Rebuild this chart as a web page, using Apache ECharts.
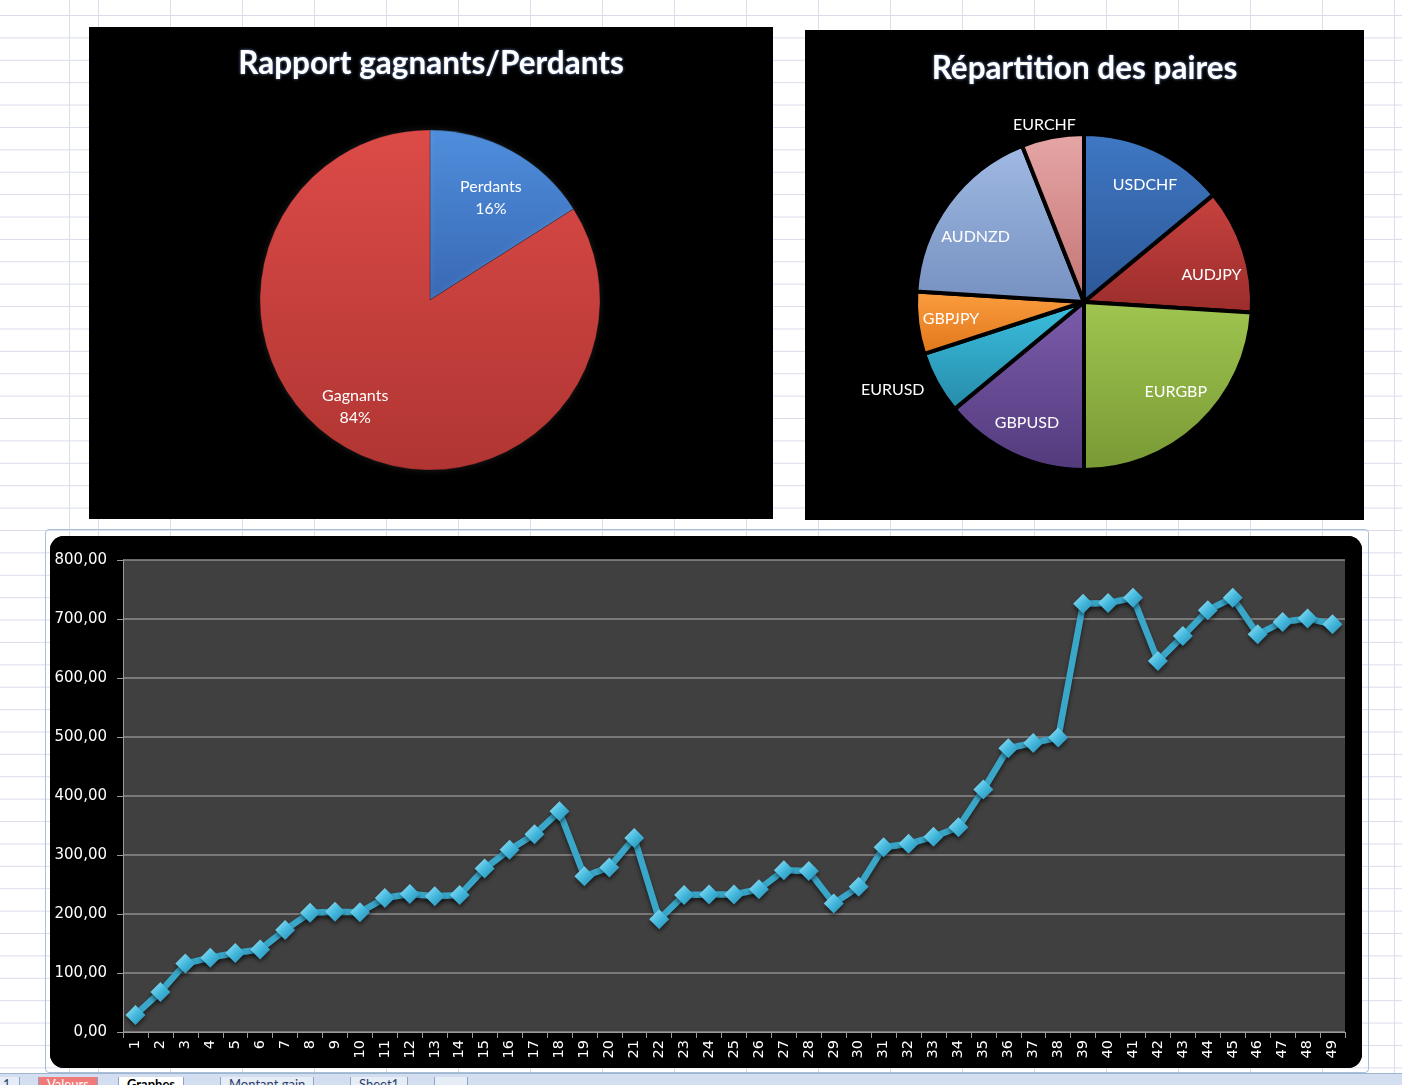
<!DOCTYPE html>
<html>
<head>
<meta charset="utf-8">
<script src="https://cdn.jsdelivr.net/npm/echarts@6/dist/echarts.min.js"></script>
<style>
  html, body { margin: 0; padding: 0; width: 1402px; height: 1085px; overflow: hidden; }
  body {
    position: relative;
    background-color: #ffffff;
    background-image:
      linear-gradient(to bottom, #d9dcea 1px, transparent 1px),
      linear-gradient(to right, #d9dcea 1px, transparent 1px);
    background-size: 72px 22.4px, 72px 22.4px;
    background-position: 0 15px, 26px 0;
  }
  #colA { position: absolute; left: 69px; top: 0; width: 1px; height: 1085px; background: #d9dcea; }
  #colAhide { position: absolute; left: 0; top: 0; width: 69px; height: 1085px;
    background-image: linear-gradient(to bottom, #d9dcea 1px, transparent 1px);
    background-size: 72px 22.4px; background-position: 0 15px; background-color: #fff; }
  .panel { position: absolute; background: #000; }
  #pie1 { left: 89px; top: 27px; width: 684px; height: 492px; }
  #pie2 { left: 805px; top: 30px; width: 559px; height: 490px; }
  #frame { position: absolute; left: 45px; top: 529px; width: 1324px; height: 544px;
    border: 1px solid #a9bfd6; border-radius: 4px; box-sizing: border-box; }
  #line { left: 50px; top: 536px; width: 1312px; height: 532px; border-radius: 14px; overflow: hidden; }
  #tabs { position: absolute; left: 0; top: 1073px; width: 1402px; height: 14px; background: #d3def0;
    border-top: 1px solid #9fb4d0; font-family: Lato, "Noto Sans", sans-serif; font-size: 13px; overflow: hidden; }
  .tab { position: absolute; top: 3px; height: 14px; line-height: 14px; padding: 0 8px; color: #2a3f6a;
    border-left: 1px solid #8ea4c4; border-right: 1px solid #8ea4c4; background: #e6edf7; }
</style>
</head>
<body>
<div id="colAhide"></div>
<div id="colA"></div>
<div id="pie1" class="panel"></div>
<div id="pie2" class="panel"></div>
<div id="frame"></div>
<div id="line" class="panel"></div>
<div id="tabs">
  <span class="tab" style="left:-6px;background:#e6edf7;">1</span>
  <span class="tab" style="left:38px;background:#f07a7a;color:#fff;">Valeurs</span>
  <span class="tab" style="left:118px;background:#fff;color:#000;font-weight:bold;">Graphes</span>
  <span class="tab" style="left:220px;">Montant gain</span>
  <span class="tab" style="left:350px;">Sheet1</span>
  <span class="tab" style="left:434px;width:16px;"></span>
</div>
<script>
// ---------- Data ----------
const ratioNames = ['Perdants', 'Gagnants'];
const ratioValues = [8, 42];

const pairNames = ['USDCHF', 'AUDJPY', 'EURGBP', 'GBPUSD', 'EURUSD', 'GBPJPY', 'AUDNZD', 'EURCHF'];
const pairValues = [7, 6, 12, 7, 3, 3, 9, 3];
const pairOutsideLabels = ['EURUSD', 'EURCHF'];

const tradeNumbers = ['1','2','3','4','5','6','7','8','9','10','11','12','13','14','15','16','17','18','19','20',
  '21','22','23','24','25','26','27','28','29','30','31','32','33','34','35','36','37','38','39','40',
  '41','42','43','44','45','46','47','48','49'];
const equityValues = [29, 68, 116, 126, 134, 140, 173, 202, 204, 203,
  227, 234, 230, 232, 277, 309, 335, 374, 264, 279,
  329, 191, 232, 233, 233, 242, 274, 273, 218, 246,
  313, 319, 331, 347, 411, 481, 490, 499, 726, 727,
  736, 629, 671, 715, 736, 674, 695, 701, 691];
const yTicks = { min: 0, max: 800, interval: 100 };

// ---------- Styles ----------
function vgrad(top, bottom) {
  return new echarts.graphic.LinearGradient(0, 0, 0, 1, [
    { offset: 0, color: top }, { offset: 1, color: bottom }
  ]);
}
const ratioColors = [vgrad('#4f8edc', '#3868b4'), vgrad('#dc4b48', '#b03532')];
const pairColors = [
  vgrad('#3f78c4', '#2c5796'),
  vgrad('#c8423f', '#9a2d2b'),
  vgrad('#a0c650', '#789834'),
  vgrad('#7c5cab', '#523a7c'),
  vgrad('#3cc0e0', '#268aa8'),
  vgrad('#fb9e40', '#e0761a'),
  vgrad('#a0bae4', '#7690c0'),
  vgrad('#e6a6a6', '#c47474')
];
const titleFont = { color: '#ffffff', fontFamily: 'Lato', fontWeight: 'bold', fontSize: 31.5,
  textShadowColor: 'rgba(140,180,255,0.8)', textShadowBlur: 3 };
const labelFont = { color: '#ffffff', fontFamily: 'Lato', fontSize: 16, lineHeight: 22 };

// ---------- Pie 1 ----------
const p1 = echarts.init(document.getElementById('pie1'));
const r1 = 170;
p1.setOption({
  backgroundColor: '#000',
  animation: false,
  title: { text: 'Rapport gagnants/Perdants', left: 'center', top: 16, textStyle: titleFont },
  series: [
    {
      type: 'pie', center: [341, 273], radius: [0, r1], startAngle: 90, clockwise: true,
      label: { show: false }, labelLine: { show: false },
      itemStyle: { borderColor: 'rgba(0,0,0,0.25)', borderWidth: 1, shadowColor: 'rgba(255,255,255,0.12)', shadowBlur: 6 },
      data: ratioNames.map((n, i) => ({ name: n, value: ratioValues[i], itemStyle: { color: ratioColors[i] } }))
    },
    {
      type: 'pie', center: [341, 273], radius: [r1 * 0.45, r1], startAngle: 90, clockwise: true, silent: true,
      itemStyle: { color: 'rgba(0,0,0,0)', borderWidth: 0 },
      label: Object.assign({ show: true, position: 'inside', formatter: '{b}\n{d}%' }, labelFont),
      labelLine: { show: false },
      labelLayout: function (params) {
        if (params.dataIndex === 1) return { dx: -14, dy: -4 };
        return { dy: 8 };
      },
      data: ratioNames.map((n, i) => ({ name: n, value: ratioValues[i] }))
    }
  ]
});

// ---------- Pie 2 ----------
const p2 = echarts.init(document.getElementById('pie2'));
const r2 = 168;
p2.setOption({
  backgroundColor: '#000',
  animation: false,
  title: { text: 'Répartition des paires', left: 'center', top: 18, textStyle: titleFont },
  series: [
    {
      type: 'pie', center: [279, 272], radius: [0, r2], startAngle: 90, clockwise: true,
      label: { show: false }, labelLine: { show: false },
      itemStyle: { borderColor: '#000', borderWidth: 4 },
      data: pairNames.map((n, i) => ({ name: n, value: pairValues[i], itemStyle: { color: pairColors[i] } }))
    },
    {
      type: 'pie', center: [279, 272], radius: [r2 * 0.56, r2], startAngle: 90, clockwise: true, silent: true,
      avoidLabelOverlap: false,
      itemStyle: { color: 'rgba(0,0,0,0)', borderWidth: 0 },
      label: Object.assign({ show: true, position: 'inside', formatter: '{b}' }, labelFont),
      labelLine: { show: false, length: 6, length2: 2 },
      labelLayout: function (params) {
        const n = pairNames[params.dataIndex];
        if (n === 'EURCHF') return { align: 'center', dy: -6 };
        if (n === 'EURUSD') return { dy: 4 };
        if (n === 'AUDJPY') return { dy: 14 };
        if (n === 'AUDNZD') return { dy: 14 };
        if (n === 'USDCHF') return { dx: 4, dy: 4 };
        if (n === 'EURGBP') return { dy: -8 };
        return {};
      },
      data: pairNames.map((n, i) => {
        const d = { name: n, value: pairValues[i] };
        if (pairOutsideLabels.includes(n)) {
          d.label = { position: 'outside' };
        }
        return d;
      })
    }
  ]
});

// ---------- Line chart ----------
const lc = echarts.init(document.getElementById('line'));
lc.setOption({
  backgroundColor: '#000',
  animation: false,
  grid: { left: 73, top: 24, right: 17, bottom: 36, show: true, backgroundColor: '#404040', borderWidth: 0 },
  xAxis: {
    type: 'category', data: tradeNumbers, boundaryGap: true,
    axisLine: { show: true, lineStyle: { color: '#9a9a9a', width: 1 } },
    axisTick: { show: true, length: 6, lineStyle: { color: '#9a9a9a' } },
    axisLabel: { interval: 0, rotate: 90, color: '#ffffff', fontFamily: 'DejaVu Sans', fontSize: 14.5, margin: 8 },
    splitLine: { show: false }
  },
  yAxis: {
    type: 'value', min: yTicks.min, max: yTicks.max, interval: yTicks.interval,
    axisLine: { show: true, lineStyle: { color: '#9a9a9a', width: 1 } },
    axisTick: { show: true, length: 6, lineStyle: { color: '#9a9a9a' } },
    axisLabel: { color: '#ffffff', fontFamily: 'DejaVu Sans', fontSize: 15, margin: 16,
      formatter: v => v.toFixed(2).replace('.', ',') },
    splitLine: { show: true, lineStyle: { color: '#8c8c8c', width: 1.5 } }
  },
  series: [{
    type: 'line', data: equityValues,
    symbol: 'diamond', symbolSize: 20, showSymbol: true,
    lineStyle: { color: '#3aa6c8', width: 6.5, shadowColor: 'rgba(0,0,0,0.55)', shadowBlur: 4, shadowOffsetY: 3 },
    itemStyle: {
      color: new echarts.graphic.LinearGradient(0, 0, 1, 1, [
        { offset: 0, color: '#9fe6f8' }, { offset: 0.5, color: '#45b9de' }, { offset: 1, color: '#2588ac' }
      ]),
      borderWidth: 0, shadowColor: 'rgba(0,0,0,0.5)', shadowBlur: 4, shadowOffsetY: 3
    }
  }]
});
</script>
</body>
</html>
